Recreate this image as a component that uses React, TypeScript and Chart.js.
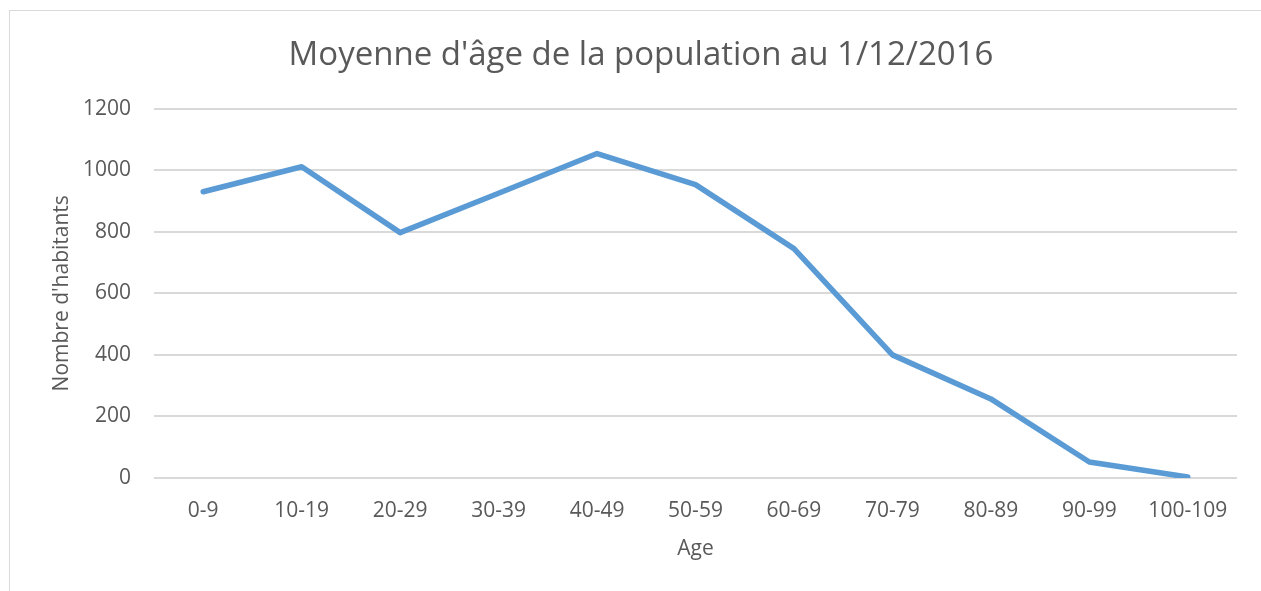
import React, { useEffect, useRef } from "react";
import { Chart, registerables } from "chart.js";

Chart.register(...registerables);

const categories = ["0-9", "10-19", "20-29", "30-39", "40-49", "50-59", "60-69", "70-79", "80-89", "90-99", "100-109"];
const habitants = [930, 1011, 797, 925, 1054, 953, 745, 400, 257, 52, 3];
const yTicks = [0, 200, 400, 600, 800, 1000, 1200];

const FONT = "'Open Sans', sans-serif";
const TEXT = "#595959";

export default function App() {
  const ref = useRef<HTMLCanvasElement | null>(null);
  useEffect(() => {
    document.body.style.margin = "0";
    const ctx = ref.current!;
    const chart = new Chart(ctx, {
      type: "line",
      data: {
        labels: categories,
        datasets: [
          {
            label: "Nombre d'habitants",
            data: habitants,
            borderColor: "#5b9bd5",
            backgroundColor: "#5b9bd5",
            borderWidth: 5.5,
            pointRadius: 0,
            tension: 0,
            borderCapStyle: "round",
            borderJoinStyle: "round",
          },
        ],
      },
      options: {
        animation: false,
        responsive: false,
        maintainAspectRatio: false,
        layout: { padding: { left: 45, right: 24, top: 10, bottom: 25 } },
        plugins: {
          legend: { display: false },
          tooltip: { enabled: false },
          title: {
            display: true,
            text: "Moyenne d'âge de la population au 1/12/2016",
            color: TEXT,
            font: { family: FONT, size: 33, weight: "normal" },
            padding: { top: 26, bottom: 33 },
          },
        },
        scales: {
          x: {
            offset: true,
            grid: { display: false, drawTicks: false },
            border: { display: false },
            ticks: { color: TEXT, font: { family: FONT, size: 21 }, padding: 20, maxRotation: 0, autoSkip: false },
            title: { display: true, text: "Age", color: TEXT, font: { family: FONT, size: 21 } },
            afterFit: (s: any) => { s.height = 88; },
          },
          y: {
            min: 0,
            max: 1200,
            afterBuildTicks: (s: any) => { s.ticks = yTicks.map((v) => ({ value: v })); },
            grid: { color: "#d9d9d9", lineWidth: 2, drawTicks: false },
            border: { display: false },
            ticks: { color: TEXT, font: { family: FONT, size: 21 }, padding: 23, callback: (v: any) => String(v) },
            title: { display: true, text: "Nombre d'habitants", color: TEXT, font: { family: FONT, size: 21 } },
            afterFit: (s: any) => { s.width = 109; },
          },
        },
      },
    });
    return () => chart.destroy();
  }, []);
  return (
    <div style={{ position: "relative", width: 1261, height: 591, background: "#fff", overflow: "hidden" }}>
      <div style={{ position: "absolute", left: 9, top: 10, width: 1300, height: 700, borderLeft: "1px solid #d9d9d9", borderTop: "1px solid #d9d9d9" }} />
      <canvas ref={ref} width={1261} height={591} style={{ position: "absolute", left: 0, top: 0 }} />
    </div>
  );
}
